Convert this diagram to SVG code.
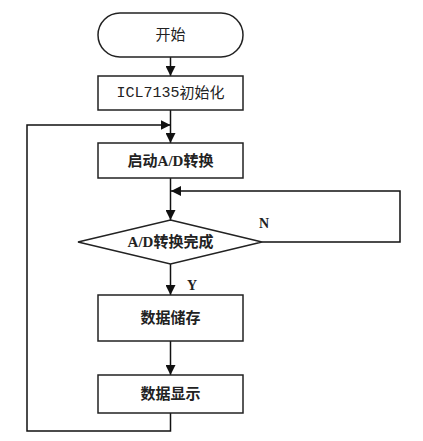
<svg xmlns="http://www.w3.org/2000/svg" width="423" height="441" viewBox="0 0 423 441">
<defs>
<marker id="ah" markerWidth="10" markerHeight="10" refX="10" refY="5" orient="auto" markerUnits="userSpaceOnUse">
<path d="M0,0 L10,5 L0,10 Z" fill="#111"/>
</marker>
</defs>
<style>
.box{fill:#fff;stroke:#222;stroke-width:1.5}
.ln{fill:none;stroke:#111;stroke-width:1.5}
.t{font-family:"Liberation Serif","Noto Sans CJK SC",serif;font-size:15px;font-weight:bold;fill:#222;text-anchor:middle;dominant-baseline:central}
.n{font-weight:normal}
.lbl{font-family:"Liberation Serif",serif;font-size:14px;font-weight:bold;fill:#222}
</style>
<rect width="423" height="441" fill="#fff"/>
<g id="connectors">
<line class="ln" x1="170.5" y1="57" x2="170.5" y2="76" marker-end="url(#ah)"/>
<line class="ln" x1="170.5" y1="110" x2="170.5" y2="143" marker-end="url(#ah)"/>
<polyline class="ln" points="170.5,413 170.5,431 27,431 27,125 170.5,125" marker-end="url(#ah)"/>
<line class="ln" x1="170.5" y1="178" x2="170.5" y2="220" marker-end="url(#ah)"/>
<polyline class="ln" points="262,242 400,242 400,191 171,191" marker-end="url(#ah)"/>
<line class="ln" x1="170.5" y1="264" x2="170.5" y2="295" marker-end="url(#ah)"/>
<line class="ln" x1="170.5" y1="341" x2="170.5" y2="375" marker-end="url(#ah)"/>
<text class="lbl" x="259" y="228">N</text>
<text class="lbl" x="187" y="290">Y</text>
</g>
<g id="start">
<rect class="box" x="98" y="13" width="145" height="44" rx="22"/>
<text class="t n" x="170.5" y="35">开始</text>
</g>
<g id="init">
<rect class="box" x="98" y="76" width="145" height="34"/>
<text class="t n" x="170.5" y="93"><tspan font-family="Liberation Mono">ICL7135</tspan>初始化</text>
</g>
<g id="startad">
<rect class="box" x="98" y="143" width="145" height="35"/>
<text class="t" x="170.5" y="161">启动A/D转换</text>
</g>
<g id="done">
<polygon class="box" points="170.5,220 262,242 170.5,264 78,242"/>
<text class="t" x="170.5" y="242">A/D转换完成</text>
</g>
<g id="store">
<rect class="box" x="98" y="295" width="145" height="46"/>
<text class="t" x="170.5" y="318">数据储存</text>
</g>
<g id="display">
<rect class="box" x="98" y="375" width="145" height="38"/>
<text class="t" x="170.5" y="394">数据显示</text>
</g>
</svg>
